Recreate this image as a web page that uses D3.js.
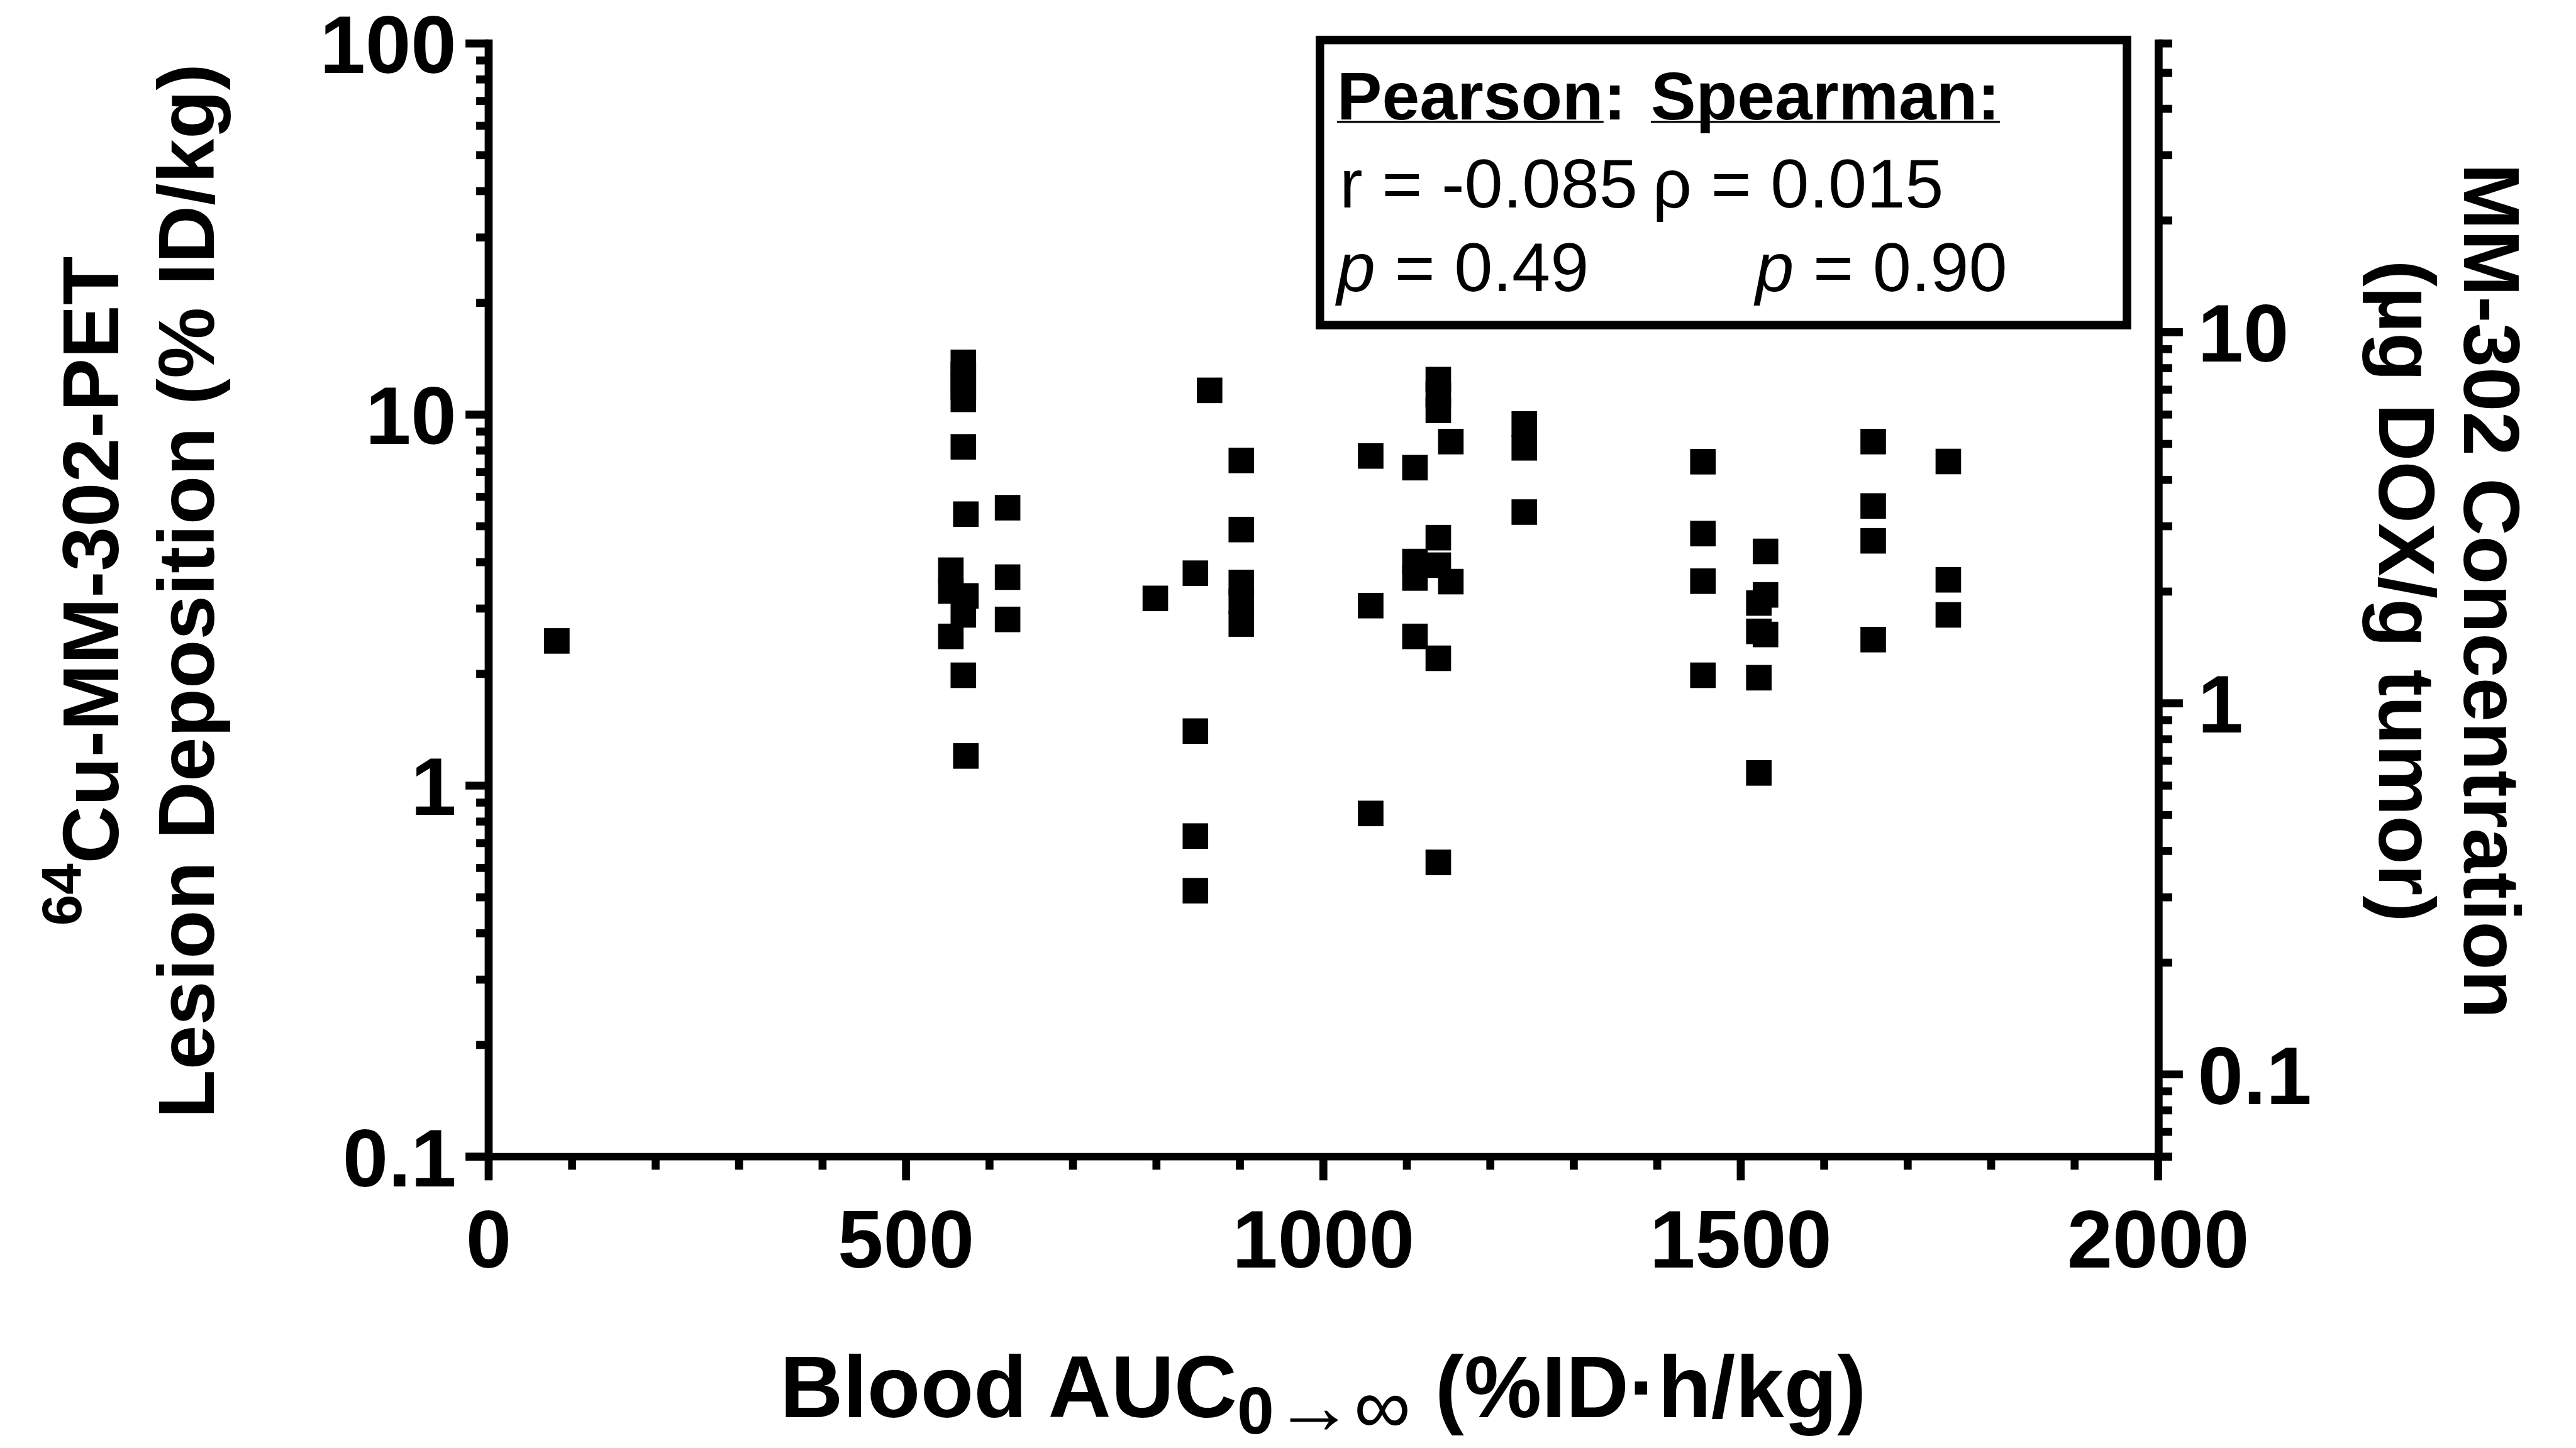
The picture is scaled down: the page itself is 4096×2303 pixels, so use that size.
<!DOCTYPE html>
<html>
<head>
<meta charset="utf-8">
<script src="https://cdn.jsdelivr.net/npm/d3@7"></script>
<style>
  html, body { margin: 0; padding: 0; background: #fff; }
  svg { display: block; }
  text { font-family: "Liberation Sans", Arial, sans-serif; fill: #000; }
</style>
</head>
<body>
<svg id="chart"></svg>
<script>
//======================= data =======================
// blood AUC (%ID*h/kg) of each lesion
var auc = [82,
  569, 569, 569, 569, 569, 572, 554, 554, 572, 569, 554, 569, 572,
  622, 622, 622,
  799, 847, 847, 847, 847, 864, 902, 902, 902, 902, 902,
  1057, 1057, 1057, 1110, 1110, 1110, 1110,
  1138, 1138, 1138, 1138, 1138, 1138, 1138, 1153, 1153,
  1241, 1241, 1241,
  1455, 1455, 1455, 1455,
  1530, 1530, 1530, 1522, 1522, 1522, 1522,
  1659, 1659, 1659, 1659,
  1749, 1749, 1749];
// 64Cu-MM-302-PET lesion deposition (%ID/kg)
var deposition = [2.45,
  13.8, 12.8, 11.85, 10.97, 8.17, 5.38, 3.80, 3.34, 3.24, 2.88, 2.52, 1.98, 1.20,
  5.60, 3.64, 2.80,
  3.19, 3.73, 1.40, 0.73, 0.52, 11.6, 7.51, 4.89, 3.52, 3.13, 2.72,
  7.72, 3.05, 0.84, 7.18, 4.01, 3.62, 2.52,
  12.4, 11.3, 10.25, 4.65, 3.92, 2.20, 0.62, 8.44, 3.54,
  9.42, 8.12, 5.45,
  7.45, 4.77, 3.55, 1.98,
  4.27, 3.26, 2.55, 3.10, 2.60, 1.95, 1.08,
  8.44, 5.66, 4.56, 2.47,
  7.46, 3.58, 2.88];

var xTicks = [0, 500, 1000, 1500, 2000];
var xMinor = d3.range(100, 2000, 100).filter(function(d) { return d % 500 != 0; });
var yTicks = [0.1, 1, 10, 100];
var yMinor = [0.2, 0.3, 0.4, 0.5, 0.6, 0.7, 0.8, 0.9, 2, 3, 4, 5, 6, 7, 8, 9, 20, 30, 40, 50, 60, 70, 80, 90];
var y2Ticks = [0.1, 1, 10];
var y2Minor = [0.06, 0.07, 0.08, 0.09, 0.2, 0.3, 0.4, 0.5, 0.6, 0.7, 0.8, 0.9, 2, 3, 4, 5, 6, 7, 8, 9, 20, 30, 40, 50, 60];

var statsHead = ["Pearson:", "Spearman:"];
var pearson = ["r = -0.085", " = 0.49"];
var spearman = ["\u03c1 = 0.015", " = 0.90"];

//======================= layout (reference pixels) =======================
var W = 4842, H = 2722;
var svg = d3.select("#chart")
  .attr("width", 4096)
  .attr("height", 2303)
  .attr("viewBox", "0 0 " + W + " " + H);

var x = d3.scaleLinear().domain([0, 2000]).range([918, 4056]);
var y = d3.scaleLog().domain([0.1, 100]).range([2174, 81]);
var y2 = d3.scaleLog().domain([0.06, 60]).range([2174, 81]);

var LW = 15, tickFont = 154;

function styleAxis(g) {
  g.select(".domain").attr("stroke-width", LW).attr("stroke-linecap", "square");
  g.selectAll(".tick line").attr("stroke-width", LW);
  g.selectAll(".tick text")
    .attr("font-size", tickFont)
    .attr("font-weight", "bold")
    .attr("font-family", "Liberation Sans, Arial, sans-serif");
}

//======================= left axis =======================
var gy = svg.append("g").attr("transform", "translate(918,0)")
  .call(d3.axisLeft(y).tickValues(yTicks).tickSize(43).tickSizeOuter(0).tickPadding(17)
    .tickFormat(function(d) { return String(d); }));
styleAxis(gy);
gy.selectAll(".tick text").attr("dy", "0.36em");
var gyMinor = svg.append("g").attr("transform", "translate(918,0)")
  .call(d3.axisLeft(y).tickValues(yMinor).tickSize(23).tickFormat(""));
gyMinor.select(".domain").remove();
styleAxis(gyMinor);

//======================= right axis =======================
var gy2 = svg.append("g").attr("transform", "translate(4057,0)")
  .call(d3.axisRight(y2).tickValues(y2Ticks).tickSize(46).tickSizeOuter(0).tickPadding(28)
    .tickFormat(function(d) { return String(d); }));
styleAxis(gy2);
gy2.selectAll(".tick text").attr("dy", "0.36em");
var gy2Minor = svg.append("g").attr("transform", "translate(4057,0)")
  .call(d3.axisRight(y2).tickValues(y2Minor).tickSize(26).tickFormat(""));
gy2Minor.select(".domain").remove();
styleAxis(gy2Minor);

//======================= bottom axis =======================
var gx = svg.append("g").attr("transform", "translate(0,2174)")
  .call(d3.axisBottom(x).tickValues(xTicks).tickSize(45).tickSizeOuter(0).tickPadding(55)
    .tickFormat(d3.format("d")));
styleAxis(gx);
gx.select(".domain").attr("stroke-width", 14);
var gxMinor = svg.append("g").attr("transform", "translate(0,2174)")
  .call(d3.axisBottom(x).tickValues(xMinor).tickSize(25).tickFormat(""));
gxMinor.select(".domain").remove();
styleAxis(gxMinor);

//======================= points =======================
var pts = auc.map(function(d, i) { return [d, deposition[i]]; });
var S = 48;
svg.append("g").selectAll("rect").data(pts).enter()
  .append("rect")
  .attr("x", function(d) { return x(d[0]) - S / 2; })
  .attr("y", function(d) { return y(d[1]) - S / 2; })
  .attr("width", S)
  .attr("height", S)
  .attr("fill", "#000");

//======================= stats box =======================
svg.append("rect")
  .attr("x", 2481).attr("y", 75)
  .attr("width", 1517).attr("height", 536)
  .attr("fill", "none").attr("stroke", "#000").attr("stroke-width", 16);

var headFont = 127, statFont = 130;
var colX = [2513, 3103];
statsHead.forEach(function(t, i) {
  var tx = svg.append("text")
    .attr("x", colX[i]).attr("y", 224)
    .attr("font-size", headFont).attr("font-weight", "bold")
    .text(t);
  // Pearson underline stops before the colon, Spearman's runs under it
  var n = i == 0 ? t.length - 1 : t.length;
  var len = tx.node().getSubStringLength(0, n);
  svg.append("line")
    .attr("x1", colX[i]).attr("x2", colX[i] + len)
    .attr("y1", 229).attr("y2", 229)
    .attr("stroke", "#000").attr("stroke-width", 4);
});

svg.append("text").attr("x", 2518).attr("y", 390)
  .attr("font-size", statFont).text(pearson[0]);
svg.append("text").attr("x", 3106).attr("y", 390)
  .attr("font-size", statFont).text(spearman[0]);

var p1 = svg.append("text").attr("x", 2513).attr("y", 547).attr("font-size", statFont);
p1.append("tspan").attr("font-style", "italic").text("p");
p1.append("tspan").text(pearson[1]);
var p2 = svg.append("text").attr("x", 3773).attr("y", 547)
  .attr("font-size", statFont).attr("text-anchor", "end");
p2.append("tspan").attr("font-style", "italic").text("p");
p2.append("tspan").text(spearman[1]);

//======================= axis titles =======================
var titleFont = 150, cy = 1111;

var t1 = svg.append("text")
  .attr("transform", "translate(222," + cy + ") rotate(-90)")
  .attr("text-anchor", "middle").attr("font-weight", "bold").attr("font-size", titleFont);
t1.append("tspan").attr("font-size", 105).attr("dy", -69).text("64");
t1.append("tspan").attr("dy", 69).text("Cu-MM-302-PET");

svg.append("text")
  .attr("transform", "translate(402," + cy + ") rotate(-90)")
  .attr("text-anchor", "middle").attr("font-weight", "bold").attr("font-size", titleFont)
  .text("Lesion Deposition (% ID/kg)");

svg.append("text")
  .attr("transform", "translate(4632," + cy + ") rotate(90)")
  .attr("text-anchor", "middle").attr("font-weight", "bold").attr("font-size", titleFont)
  .text("MM-302 Concentration");

svg.append("text")
  .attr("transform", "translate(4472," + cy + ") rotate(90)")
  .attr("text-anchor", "middle").attr("font-weight", "bold").attr("font-size", titleFont)
  .text("(\u00b5g DOX/g tumor)");

var xt = svg.append("text")
  .attr("x", 2487).attr("y", 2664)
  .attr("text-anchor", "middle").attr("font-weight", "bold").attr("font-size", 164);
xt.append("tspan").text("Blood AUC");
xt.append("tspan").attr("font-size", 125).attr("dy", 31).text("0");
xt.append("tspan").attr("font-size", 150).attr("font-weight", "normal").text("\u2192\u221e");
xt.append("tspan").attr("dy", -31).text(" (%ID\u00b7h/kg)");
</script>
</body>
</html>
